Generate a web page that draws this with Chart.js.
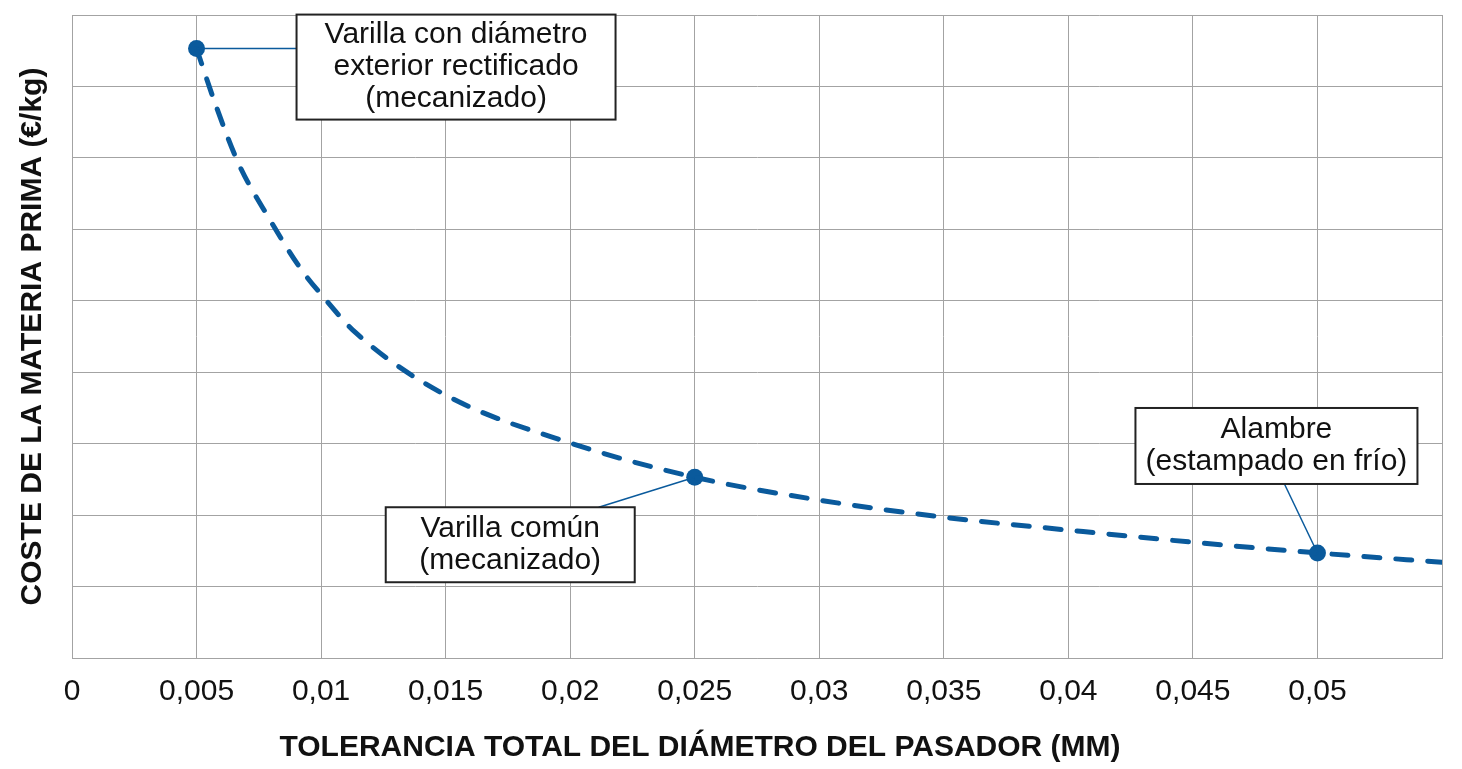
<!DOCTYPE html>
<html>
<head>
<meta charset="utf-8">
<script src="https://cdn.jsdelivr.net/npm/chart.js@4.4.1/dist/chart.umd.min.js"></script>
<style>
  html, body { margin: 0; padding: 0; background: #fff; }
  #chart { display: block; }
</style>
</head>
<body>
<canvas id="chart" width="1462" height="769"></canvas>
<script>
// curva: tolerancia (mm) -> coste
var tolerancia = [0.005, 0.0058, 0.0067, 0.0079, 0.0092, 0.01, 0.0114, 0.015, 0.02, 0.025, 0.03, 0.035, 0.04, 0.045, 0.05, 0.055];
var coste = [8.53, 7.71, 6.91, 6.16, 5.44, 5.09, 4.55, 3.68, 3.01, 2.53, 2.21, 1.97, 1.79, 1.62, 1.47, 1.34];

// puntos marcados y sus etiquetas
var puntosX = [0.005, 0.025, 0.05];
var puntosY = [8.53, 2.53, 1.47];
var etiquetas = [
  ['Varilla con diámetro', 'exterior rectificado', '(mecanizado)'],
  ['Varilla común', '(mecanizado)'],
  ['Alambre', '(estampado en frío)']
];

// ejes
var xTickValues = [0, 0.005, 0.01, 0.015, 0.02, 0.025, 0.03, 0.035, 0.04, 0.045, 0.05, 0.055];
var xTickLabels = ['0', '0,005', '0,01', '0,015', '0,02', '0,025', '0,03', '0,035', '0,04', '0,045', '0,05', ''];
var tituloX = 'TOLERANCIA TOTAL DEL DIÁMETRO DEL PASADOR (MM)';
var tituloY = 'COSTE DE LA MATERIA PRIMA (€/kg)';

var azul = '#0a5a9c';
var gris = '#a3a3a3';
var fuente = '"Liberation Sans", Arial, sans-serif';

// cajas de texto, relativas al punto marcado (px)
var cajas = [
  { dx: 100, dy: -34, w: 319, h: 105, lx: 100, ly: 0 },
  { dx: -309, dy: 30, w: 249, h: 75, lx: -96, ly: 30 },
  { dx: -182, dy: -145, w: 282, h: 76, lx: -33, ly: -69 }
];

var anotaciones = {
  id: 'anotaciones',
  afterDatasetsDraw: function(chart) {
    var ctx = chart.ctx;
    var xs = chart.scales.x, ys = chart.scales.y;
    ctx.save();
    for (var i = 0; i < puntosX.length; i++) {
      var px = xs.getPixelForValue(puntosX[i]);
      var py = ys.getPixelForValue(puntosY[i]);
      var c = cajas[i];
      // linea guia
      ctx.strokeStyle = azul;
      ctx.lineWidth = 1.5;
      ctx.beginPath();
      ctx.moveTo(px, py);
      ctx.lineTo(px + c.lx, py + c.ly);
      ctx.stroke();
      // caja
      var bx = px + c.dx, by = py + c.dy;
      ctx.fillStyle = '#fff';
      ctx.fillRect(bx, by, c.w, c.h);
      ctx.strokeStyle = '#222';
      ctx.lineWidth = 2;
      ctx.strokeRect(bx, by, c.w, c.h);
      // texto
      var lineas = etiquetas[i];
      ctx.fillStyle = '#111';
      ctx.font = '30px ' + fuente;
      ctx.textAlign = 'center';
      ctx.textBaseline = 'middle';
      var cy = by + c.h / 2 - (lineas.length - 1) * 16;
      for (var j = 0; j < lineas.length; j++) {
        ctx.fillText(lineas[j], bx + c.w / 2, cy + j * 32);
      }
    }
    // titulo del eje x
    ctx.font = 'bold 30px ' + fuente;
    ctx.fillStyle = '#111';
    ctx.textAlign = 'center';
    ctx.textBaseline = 'middle';
    ctx.fillText(tituloX, 700, 748);
    ctx.restore();
  }
};

var ctx = document.getElementById('chart').getContext('2d');
var chart = new Chart(ctx, {
  type: 'line',
  data: {
    datasets: [{
      data: tolerancia.map(function(t, i) { return { x: t, y: coste[i] }; }),
      borderColor: azul,
      borderWidth: 5,
      borderDash: [16, 16],
      borderCapStyle: 'round',
      cubicInterpolationMode: 'monotone',
      pointRadius: 0,
      fill: false
    }, {
      data: puntosX.map(function(t, i) { return { x: t, y: puntosY[i] }; }),
      showLine: false,
      pointRadius: 8.5,
      pointBackgroundColor: azul,
      pointBorderWidth: 0
    }]
  },
  options: {
    responsive: false,
    animation: false,
    devicePixelRatio: 1,
    layout: { padding: { top: 15, right: 20, left: 0, bottom: 0 } },
    plugins: { legend: { display: false }, tooltip: { enabled: false } },
    scales: {
      x: {
        type: 'linear',
        min: 0,
        max: 0.055,
        afterBuildTicks: function(scale) {
          scale.ticks = xTickValues.map(function(v) { return { value: v }; });
        },
        afterFit: function(scale) { scale.height = 111; },
        grid: { color: gris, lineWidth: 1, drawTicks: false },
        border: { color: gris, width: 1 },
        ticks: {
          padding: 16,
          maxRotation: 0,
          autoSkip: false,
          color: '#111',
          font: { family: fuente, size: 30 },
          callback: function(v, i) { return xTickLabels[i]; }
        }
      },
      y: {
        min: 0,
        max: 9,
        afterFit: function(scale) { scale.width = 72; },
        grid: { color: gris, lineWidth: 1, drawTicks: false },
        border: { color: gris, width: 1 },
        ticks: { stepSize: 1, display: false },
        title: {
          display: true,
          text: tituloY,
          color: '#111',
          padding: { top: 15, bottom: 0 },
          font: { family: fuente, size: 30, weight: 'bold' }
        }
      }
    }
  },
  plugins: [anotaciones]
});
</script>
</body>
</html>
